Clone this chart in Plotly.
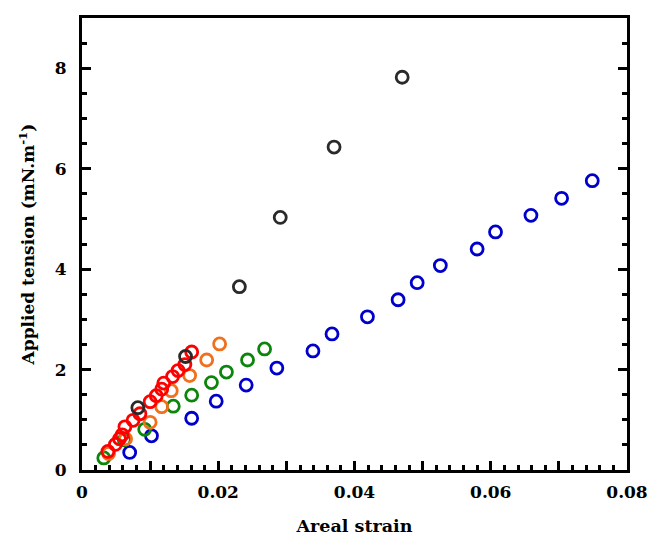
import plotly.graph_objects as go

# ---- data ----
blue_x = [0.0070, 0.0102, 0.0161, 0.0197, 0.0241, 0.0286, 0.0339, 0.0367, 0.0419,
          0.0464, 0.0492, 0.0526, 0.0580, 0.0607, 0.0659, 0.0704, 0.0749]
blue_y = [0.35, 0.68, 1.03, 1.37, 1.69, 2.03, 2.37, 2.71, 3.05,
          3.39, 3.73, 4.07, 4.40, 4.74, 5.07, 5.41, 5.76]

green_x = [0.0032, 0.0062, 0.0092, 0.0134, 0.0161, 0.0190, 0.0212, 0.0243, 0.0268]
green_y = [0.24, 0.60, 0.81, 1.27, 1.49, 1.74, 1.95, 2.19, 2.41]

orange_x = [0.0039, 0.0064, 0.0100, 0.0117, 0.0131, 0.0158, 0.0183, 0.0202]
orange_y = [0.33, 0.62, 0.95, 1.26, 1.58, 1.88, 2.19, 2.51]

red_x = [0.0038, 0.0049, 0.0055, 0.0059, 0.0063, 0.0075, 0.0085, 0.0100,
         0.0109, 0.0117, 0.0120, 0.0133, 0.0141, 0.0151, 0.0161]
red_y = [0.37, 0.51, 0.62, 0.70, 0.86, 0.99, 1.12, 1.36,
         1.48, 1.61, 1.73, 1.86, 1.98, 2.10, 2.35]

black_x = [0.0082, 0.0152, 0.0231, 0.0291, 0.0370, 0.0470]
black_y = [1.24, 2.26, 3.65, 5.03, 6.43, 7.82]

x_tickvals = [0, 0.01, 0.02, 0.03, 0.04, 0.05, 0.06, 0.07, 0.08]
x_ticktext = ["0", " ", "0.02", " ", "0.04", " ", "0.06", " ", "0.08"]
y_tickvals = [0, 2, 4, 6, 8]
y_ticktext = ["0", "2", "4", "6", "8"]

series = [
    (blue_x, blue_y, "#0000CC"),
    (green_x, green_y, "#0B850B"),
    (orange_x, orange_y, "#F0701E"),
    (red_x, red_y, "#FF0000"),
    (black_x, black_y, "#2A2A2A"),
]

FONT = "DejaVu Serif"

fig = go.Figure()
for xs, ys, col in series:
    fig.add_trace(go.Scatter(
        x=xs, y=ys, mode="markers", showlegend=False,
        marker=dict(symbol="circle-open", size=12, color=col,
                    line=dict(width=2.8, color=col)),
    ))

axis_common = dict(
    showgrid=False, zeroline=False, showline=True, linecolor="black", linewidth=3,
    ticks="inside", tickcolor="black", tickwidth=3, ticklen=9, automargin=False,
    tickfont=dict(family=FONT, size=17, color="black", weight="bold"),
)

fig.update_xaxes(
    **axis_common, range=[0, 0.08], mirror=True, ticklabelstandoff=5,
    tickmode="array", tickvals=x_tickvals, ticktext=x_ticktext,
    minor=dict(dtick=0.002, ticks="inside", ticklen=5, tickwidth=2.5, tickcolor="black"),
    title=dict(text="Areal strain", font=dict(family=FONT, size=17.5, color="black", weight="bold"),
               standoff=19),
)
fig.update_yaxes(
    **axis_common, range=[0, 9], mirror="ticks", ticklabelstandoff=9,
    tickmode="array", tickvals=y_tickvals, ticktext=y_ticktext,
    minor=dict(dtick=0.5, ticks="inside", ticklen=5, tickwidth=2.5, tickcolor="black"),
    title=dict(text="Applied tension (mN.m<sup>-1</sup>)",
               font=dict(family=FONT, size=17, color="black", weight="bold"), standoff=16),
)

fig.update_layout(
    width=651, height=536,
    margin=dict(l=82, r=24, t=18, b=66, autoexpand=False),
    plot_bgcolor="white", paper_bgcolor="white",
)

fig.write_html(
    "out.html",
    config={"displayModeBar": False},
    post_script="document.body.style.margin='0';document.body.style.overflow='hidden';",
)
